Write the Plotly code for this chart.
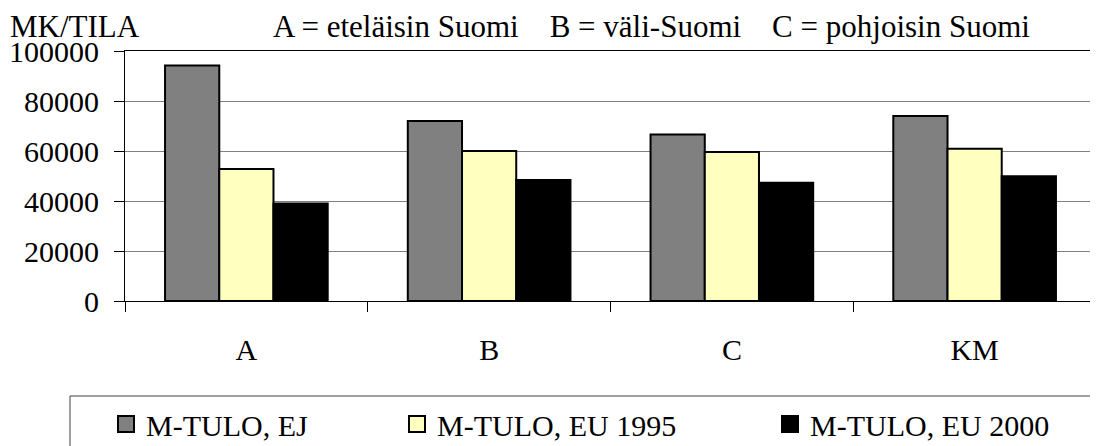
import plotly.graph_objects as go

categories = ["A", "B", "C", "KM"]
series_names = ["M-TULO, EJ", "M-TULO, EU 1995", "M-TULO, EU 2000"]
ej_values = [94200, 72000, 66600, 74000]
eu1995_values = [52800, 60000, 59600, 60900]
eu2000_values = [39000, 48400, 47300, 49900]
y_tick_values = [0, 20000, 40000, 60000, 80000, 100000]
y_tick_labels = ["0", "20000", "40000", "60000", "80000", "100000"]

colors = ["#808080", "#FFFFC0", "#000000"]
FONT = "Liberation Serif"

# page has an 8px body margin; work in screen pixels and convert
OFF = 8
W, H = 1098, 460
L, T = 125 - OFF, 51 - OFF
R = W - (1096 - OFF)
B = H - (301 - OFF)
PW, PH = W - L - R, H - T - B


def px_x(p):
    return (p - OFF - L) / PW


def px_y(p):
    return (H - B - (p - OFF)) / PH


fig = go.Figure()
for name, vals, col in zip(series_names, [ej_values, eu1995_values, eu2000_values], colors):
    fig.add_trace(go.Bar(
        x=categories, y=vals, name=name, showlegend=False,
        marker=dict(color=col, line=dict(color="#000000", width=2)),
    ))

legend_widths = [246, 328, 280]
for name, col, lw in zip(series_names, colors, legend_widths):
    fig.add_trace(go.Scatter(
        x=[None], y=[None], name=name, mode="markers",
        marker=dict(symbol="square", size=16, color=col,
                    line=dict(color="#000000", width=2)),
        legendwidth=lw,
    ))

fig.update_layout(
    width=W, height=H,
    margin=dict(l=L, r=R, t=T, b=B, pad=0, autoexpand=False),
    paper_bgcolor="white", plot_bgcolor="white",
    barmode="group", bargap=0.33, bargroupgap=0,
    font=dict(family=FONT, size=30, color="black"),
    showlegend=True,
    legend=dict(
        orientation="h", x=px_x(106), y=px_y(424), xanchor="left", yanchor="middle",
        font=dict(family=FONT, size=30, color="black"),
        bgcolor="rgba(0,0,0,0)", borderwidth=0,
        itemsizing="trace",
    ),
    xaxis=dict(
        type="category", categoryorder="array", categoryarray=categories,
        showgrid=False, showline=True, linecolor="black", linewidth=1, mirror=True,
        ticks="outside", tickson="boundaries", ticklen=10, tickcolor="black", tickwidth=1,
        tickfont=dict(family=FONT, size=30, color="black"),
        ticklabelstandoff=22, automargin=False,
    ),
    yaxis=dict(
        range=[0, 100000], tickvals=y_tick_values, ticktext=y_tick_labels,
        showgrid=True, gridcolor="#808080", gridwidth=1,
        showline=True, linecolor="black", linewidth=1, mirror=True,
        zeroline=False,
        ticks="outside", ticklen=10, tickcolor="black", tickwidth=1,
        tickfont=dict(family=FONT, size=30, color="black"),
        ticklabelstandoff=9, automargin=False,
    ),
    shapes=[dict(
        type="rect", xref="paper", yref="paper",
        x0=px_x(70), x1=px_x(1110), y0=px_y(462), y1=px_y(396),
        line=dict(color="#404040", width=1), fillcolor="rgba(0,0,0,0)",
    )],
    annotations=[
        dict(text="MK/TILA", xref="paper", yref="paper", x=px_x(8), y=px_y(27),
             xanchor="left", yanchor="middle", showarrow=False,
             font=dict(family=FONT, size=31, color="black")),
        dict(text="A = eteläisin Suomi\u00a0\u00a0\u00a0\u00a0B = väli-Suomi\u00a0\u00a0\u00a0\u00a0C = pohjoisin Suomi",
             xref="paper", yref="paper", x=px_x(651), y=px_y(27),
             xanchor="center", yanchor="middle", showarrow=False,
             font=dict(family=FONT, size=31, color="black")),
    ],
)

fig.write_html("out.html")
